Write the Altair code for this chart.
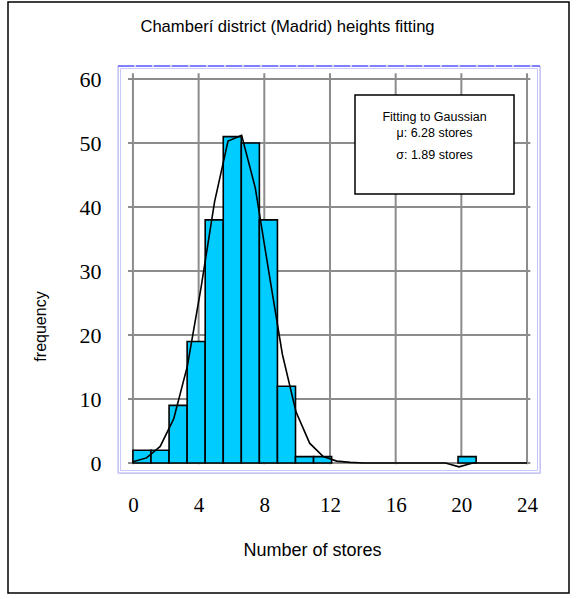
import altair as alt
import pandas as pd

# ---- data ----
bin_start = [0.0, 1.1, 2.2, 3.3, 4.4, 5.5, 6.6, 7.7, 8.8, 9.9, 11.0, 12.1, 13.2, 14.3, 15.4, 16.5, 17.6, 18.7, 19.8]
bin_end = [1.1, 2.2, 3.3, 4.4, 5.5, 6.6, 7.7, 8.8, 9.9, 11.0, 12.1, 13.2, 14.3, 15.4, 16.5, 17.6, 18.7, 19.8, 20.9]
counts = [2, 2, 9, 19, 38, 51, 50, 38, 12, 1, 1, 0, 0, 0, 0, 0, 0, 0, 1]

curve_x = [0.0, 0.83, 1.66, 2.48, 3.31, 4.14, 4.97, 5.79, 6.62, 7.45, 8.28, 9.10, 9.93, 10.76, 11.59,
           12.41, 13.24, 14.07, 14.90, 15.72, 16.55, 17.38, 18.21, 19.03, 19.86, 20.69, 21.52, 22.34, 23.17, 24.0]
curve_y = [0.2, 0.8, 2.6, 6.9, 15.1, 27.3, 40.8, 50.3, 51.2, 43.0, 29.8, 17.0, 8.0, 3.1, 1.0,
           0.3, 0.1, 0.0, 0.0, 0.0, 0.0, 0.0, 0.0, 0.0, -0.6, 0.0, 0.0, 0.0, 0.0, 0.0]

x_ticks = [0, 4, 8, 12, 16, 20, 24]
y_ticks = [0, 10, 20, 30, 40, 50, 60]

title_text = "Chamberí district (Madrid) heights fitting"
x_title = "Number of stores"
y_title = "frequency"
legend_lines = ["Fitting to Gaussian", "μ: 6.28 stores", "σ: 1.89 stores"]

# ---- tables ----
bars_df = pd.DataFrame({"x": bin_start, "x2": bin_end, "count": counts})
curve_df = pd.DataFrame({"x": curve_x, "count": curve_y})
vgrid_df = pd.DataFrame({"x": x_ticks})
hgrid_df = pd.DataFrame({"count": y_ticks})
one = pd.DataFrame({"a": [0]})

W, H = 422, 407
xdom = [-0.91, 24.79]
ydom = [-1.56, 62.04]

SANS = "Liberation Sans"
SERIF = "Liberation Serif"

xaxis = alt.Axis(values=x_ticks, grid=False, domain=False, ticks=False,
                 labelFont=SERIF, labelFontSize=21, labelColor="black",
                 labelPadding=32, labelBaseline="middle",
                 title=x_title, titleFont=SANS, titleFontSize=18, titleFontWeight="normal",
                 titleColor="black", titleX=194, titleY=77, titleBaseline="middle",
                 titleAlign="center", titleAnchor="start")
yaxis = alt.Axis(values=y_ticks, grid=False, domain=False, ticks=False,
                 labelFont=SERIF, labelFontSize=22, labelColor="black",
                 labelPadding=17, labelBaseline="middle",
                 title=y_title, titleFont=SANS, titleFontSize=16, titleFontWeight="normal",
                 titleColor="black", titleX=-78, titleY=260, titleBaseline="middle",
                 titleAlign="center", titleAngle=-90, titleAnchor="start")

xs = alt.Scale(domain=xdom, nice=False, zero=False)
ys = alt.Scale(domain=ydom, nice=False, zero=False)

outer = alt.Chart(one).mark_rect(fill=None, stroke="black", strokeWidth=1.5).encode(
    x=alt.value(-110), x2=alt.value(451), y=alt.value(-64), y2=alt.value(527))

frame_inner = alt.Chart(one).mark_rect(fill=None, stroke="#c8c8ff", strokeWidth=1).encode(
    x=alt.value(2.5), x2=alt.value(W - 2.5), y=alt.value(2.5), y2=alt.value(H - 2.5))
frame_outer = alt.Chart(one).mark_rect(fill=None, stroke="#b0b0ff", strokeWidth=1).encode(
    x=alt.value(0), x2=alt.value(W), y=alt.value(0), y2=alt.value(H))
top_line = alt.Chart(one).mark_rule(color="#3030ff", strokeWidth=1.2, strokeDash=[16, 2]).encode(
    x=alt.value(0), x2=alt.value(W), y=alt.value(0))

vgrid = alt.Chart(vgrid_df).mark_rule(color="#8c8c8c", strokeWidth=2).encode(
    x=alt.X("x:Q", scale=xs, axis=xaxis, title=x_title),
    y=alt.Y(datum=-0.2, scale=ys), y2=alt.Y2(datum=60.9))
hgrid = alt.Chart(hgrid_df).mark_rule(color="#8c8c8c", strokeWidth=2).encode(
    y=alt.Y("count:Q", scale=ys, axis=yaxis, title=y_title),
    x=alt.X(datum=-0.3, scale=xs), x2=alt.X2(datum=24.2))

bars = alt.Chart(bars_df).transform_filter("datum.count > 0").mark_rect(
    fill="#00ccff", stroke="black", strokeWidth=1.6).encode(
    x=alt.X("x:Q", scale=xs, axis=xaxis, title=x_title),
    x2="x2:Q",
    y=alt.Y("count:Q", scale=ys, axis=yaxis, title=y_title),
    y2=alt.Y2(datum=0))

curve = alt.Chart(curve_df).mark_line(color="black", strokeWidth=1.6).encode(
    x=alt.X("x:Q", scale=xs, axis=xaxis, title=x_title),
    y=alt.Y("count:Q", scale=ys, axis=yaxis, title=y_title))

legend_box = alt.Chart(one).mark_rect(fill="white", stroke="black", strokeWidth=1.5).encode(
    x=alt.value(237), x2=alt.value(396), y=alt.value(29), y2=alt.value(128))

legend_ys = [50.5, 66.5, 89]
legend_texts = [
    alt.Chart(one).mark_text(font=SANS, fontSize=12.5, color="black",
                             align="center", baseline="middle").encode(
        x=alt.value(316.5), y=alt.value(ly), text=alt.value(line))
    for line, ly in zip(legend_lines, legend_ys)
]

title = alt.Chart(one).mark_text(font=SANS, fontSize=16.6, color="black",
                                 align="center", baseline="middle").encode(
    x=alt.value(169.5), y=alt.value(-39), text=alt.value(title_text))

chart = alt.layer(outer, frame_outer, frame_inner, vgrid, hgrid, bars, curve, top_line,
                  legend_box, *legend_texts, title).properties(
    width=W, height=H,
    autosize=alt.AutoSizeParams(type="none"),
    padding={"left": 118, "top": 66, "right": 37, "bottom": 126},
).configure_view(stroke=None).configure(background="white")

chart.save("out.html", embed_options={"renderer": "svg", "actions": False})
